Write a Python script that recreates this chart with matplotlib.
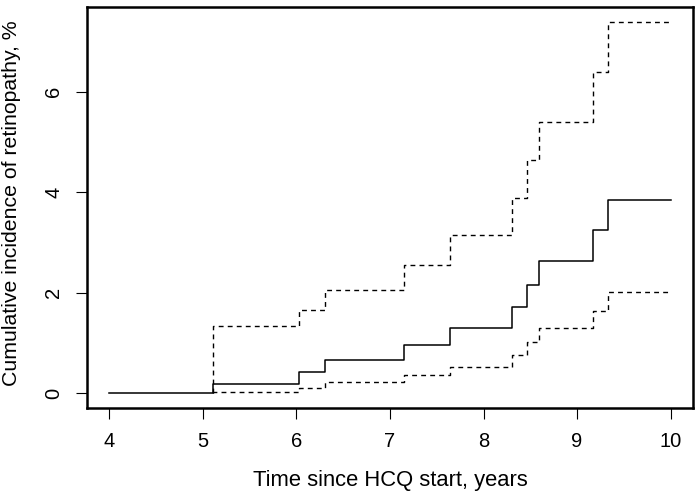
import matplotlib
matplotlib.use("Agg")
import matplotlib.pyplot as plt

times = [4.0, 5.11, 6.03, 6.30, 7.15, 7.64, 8.30, 8.47, 8.59, 9.17, 9.33, 10.0]
estimate = [0.0, 0.19, 0.43, 0.66, 0.95, 1.29, 1.72, 2.16, 2.63, 3.24, 3.85, 3.85]
lower = [0.0, 0.02, 0.11, 0.22, 0.36, 0.53, 0.76, 1.02, 1.29, 1.63, 2.01, 2.01]
upper = [0.0, 1.33, 1.66, 2.05, 2.55, 3.14, 3.89, 4.65, 5.39, 6.39, 7.39, 7.39]
xticks = [4, 5, 6, 7, 8, 9, 10]
yticks = [0, 2, 4, 6]

plt.rcParams['font.family'] = ['Liberation Sans', 'DejaVu Sans']

fig = plt.figure(figsize=(7.0, 4.96), dpi=100)
ax = fig.add_axes([87/700, 1 - 408/496, (693-87)/700, (408-7)/496])

# confidence limits start with a riser at the first event (both are 0 before it)
ci_x = [times[1]] + times[1:]
ax.plot(ci_x, [lower[0]] + lower[1:], drawstyle='steps-post', color='black', lw=1.0, dashes=(3.5, 3))
ax.plot(ci_x, [upper[0]] + upper[1:], drawstyle='steps-post', color='black', lw=1.0, dashes=(3.5, 3))
ax.plot(times, estimate, drawstyle='steps-post', color='black', lw=1.1)

ax.set_xlim(3.76, 10.24)
ax.set_ylim(-0.296, 7.686)
ax.set_xticks(xticks)
ax.set_yticks(yticks)
ax.set_xticklabels([str(t) for t in xticks], fontsize=14.5)
ax.set_yticklabels([str(t) for t in yticks], fontsize=14.5, rotation=90, va='center')
ax.tick_params(axis='both', direction='out', length=8, width=0.8, pad=9)
for s in ax.spines.values():
    s.set_linewidth(1.8)

ax.set_xlabel('Time since HCQ start, years', fontsize=15.8, labelpad=14)
ax.set_ylabel('Cumulative incidence of retinopathy, %', fontsize=15.3, labelpad=14)
ax.yaxis.set_label_coords(-0.109, 0.512)

fig.savefig('out.png', dpi=100)
